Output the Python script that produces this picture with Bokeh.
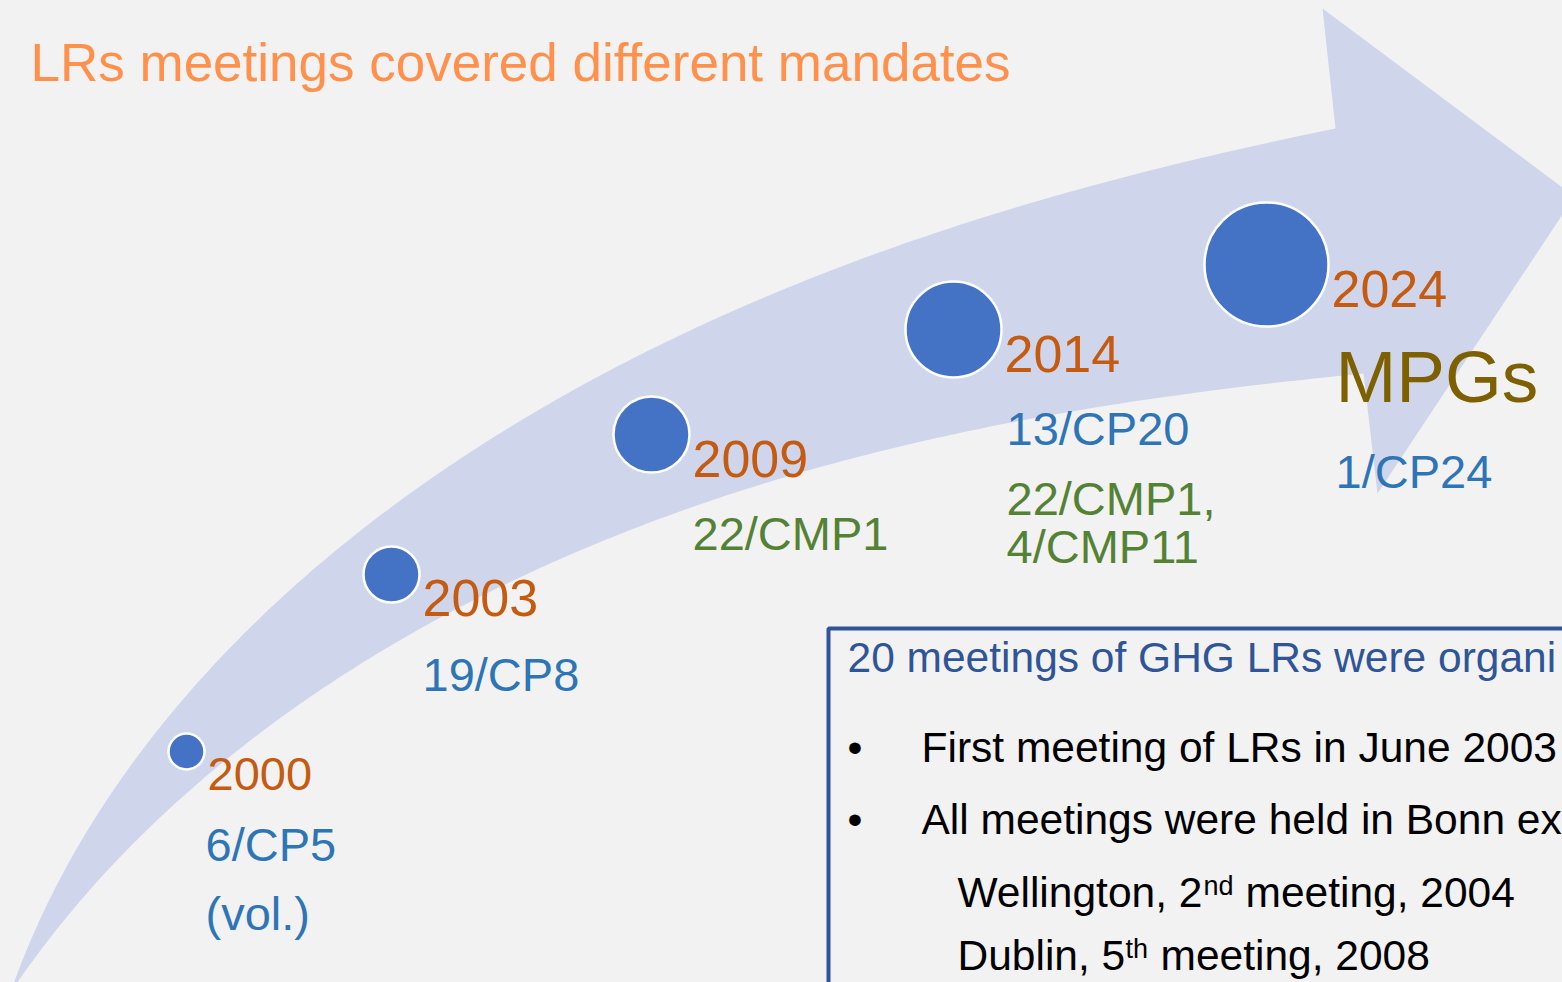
from math import comb
import numpy as np
from bokeh.plotting import figure
from bokeh.models import Range1d
from bokeh.core.properties import value
from bokeh.embed import file_html
from bokeh.resources import INLINE

# ---------------- data ----------------
TITLE = "LRs meetings covered different mandates"

years = ["2000", "2003", "2009", "2014", "2024"]
# size of each milestone dot (px radius), grows with time
milestone_radius = [18, 28, 38, 48, 62]

cp_labels = ["6/CP5", "(vol.)", "19/CP8", "13/CP20", "1/CP24"]
cmp_labels = ["22/CMP1", "22/CMP1,", "4/CMP11"]
mpg_label = "MPGs"

box_header = "20 meetings of GHG LRs were organi"
box_bullets = ["First meeting of LRs in June 2003",
               "All meetings were held in Bonn ex"]
exceptions_city = ["Wellington, 2", "Dublin, 5"]
exceptions_sup = ["nd", "th"]
exceptions_rest = ["meeting, 2004", "meeting, 2008"]

# ---------------- layout (pixel coordinates of the slide) ----------------
milestone_x = [186, 391, 651, 953, 1266]
milestone_y = [751, 574, 434, 329, 264]
year_size = [47, 52, 52, 52, 52]
year_base = [791, 617, 478, 373, 308]

cp_x = [205, 205, 422, 1006, 1335]
cp_y = [861, 930, 691, 445, 488]
cmp_x = [692, 1006, 1006]
cmp_y = [550, 515, 563]

upper_edge = [(10, 992), (50, 893), (100, 805), (143, 748), (182, 700), (250, 632),
              (350, 538), (450, 462), (550, 402), (650, 350), (800, 283), (900, 244),
              (1000, 211), (1100, 183), (1200, 158), (1335, 128)]
head = [(1322, 8), (1574, 196), (1377, 493), (1363, 373)]
lower_edge = [(10, 992), (100, 875), (200, 777), (308, 700), (350, 672), (450, 613),
              (550, 563), (650, 521), (700, 503), (800, 470), (900, 446), (1000, 424),
              (1100, 407), (1183, 395), (1363, 373)]

FONT = value("Liberation Sans")
C_BG = "#F2F2F2"
C_ARROW = "#CFD5EA"
C_DOT = "#4472C4"
C_YEAR = "#C55A11"
C_CP = "#2E75B6"
C_CMP = "#548235"
C_MPG = "#7F6000"
C_TITLE = "#FF914D"
C_BOX = "#2F5597"

BASE_SHIFT = 0.37  # em offset of the rendered alphabetic baseline


def bl(y, size):
    return y - BASE_SHIFT * size


def bezier_fit(pts, deg=4, n=240):
    Q = np.asarray(pts, float)
    d = np.r_[0, np.cumsum(np.hypot(*np.diff(Q, axis=0).T))]
    t = d / d[-1]
    B = np.stack([comb(deg, k) * t ** k * (1 - t) ** (deg - k) for k in range(deg + 1)], axis=1)
    rhs = Q - np.outer(B[:, 0], Q[0]) - np.outer(B[:, -1], Q[-1])
    C, *_ = np.linalg.lstsq(B[:, 1:-1], rhs, rcond=None)
    ctrl = np.vstack([Q[0], C, Q[-1]])
    tt = np.linspace(0, 1, n)
    BB = np.stack([comb(deg, k) * tt ** k * (1 - tt) ** (deg - k) for k in range(deg + 1)], axis=1)
    return BB @ ctrl


W, H = 1562, 982
p = figure(width=W, height=H, x_range=Range1d(0, W), y_range=Range1d(H, 0),
           output_backend="svg", toolbar_location=None, tools="",
           x_axis_location=None, y_axis_location=None, min_border=0,
           background_fill_color=C_BG, border_fill_color=C_BG, outline_line_color=None)
p.grid.visible = False

# arrow
up = bezier_fit(upper_edge)
lo = bezier_fit(lower_edge)[::-1]
hd = np.asarray(head, float)
outline = np.vstack([up, hd, lo])
p.patch(outline[:, 0], outline[:, 1], fill_color=C_ARROW, line_color=None)

# milestones
p.circle(milestone_x, milestone_y, radius=milestone_radius, fill_color=C_DOT,
         line_color="white", line_width=2.5)

# title
p.text([30], [bl(82, 53)], text=[TITLE], text_font=FONT, text_font_size="53px",
       text_color=C_TITLE, text_baseline="alphabetic")

# year labels
for yr, cx, r, yb, fs in zip(years, milestone_x, milestone_radius, year_base, year_size):
    p.text([cx + r + 3], [bl(yb, fs)], text=[yr], text_font=FONT,
           text_font_size=f"{fs}px", text_color=C_YEAR, text_baseline="alphabetic")

p.text(cp_x, [bl(v, 47) for v in cp_y], text=cp_labels, text_font=FONT,
       text_font_size="47px", text_color=C_CP, text_baseline="alphabetic")
p.text(cmp_x, [bl(v, 47) for v in cmp_y], text=cmp_labels, text_font=FONT,
       text_font_size="47px", text_color=C_CMP, text_baseline="alphabetic")
p.text([1335], [bl(403, 73)], text=[mpg_label], text_font=FONT, text_font_size="73px",
       text_color=C_MPG, text_baseline="alphabetic")

# info box
p.quad(left=[828], right=[1800], top=[628], bottom=[1200], fill_color=None,
       line_color=C_BOX, line_width=4)
p.text([847], [bl(673, 42.5)], text=[box_header], text_font=FONT, text_font_size="42.5px",
       text_color=C_BOX, text_baseline="alphabetic")
p.text([847, 847], [bl(763, 42.5), bl(835, 42.5)], text=["\u2022", "\u2022"], text_font=FONT,
       text_font_size="42.5px", text_color="black", text_baseline="alphabetic")
p.text([921, 921], [bl(763, 42.5), bl(835, 42.5)], text=box_bullets, text_font=FONT,
       text_font_size="42.5px", text_color="black", text_baseline="alphabetic")
p.text([957, 957], [bl(908, 42.5), bl(971, 42.5)], text=exceptions_city, text_font=FONT,
       text_font_size="42.5px", text_color="black", text_baseline="alphabetic")
p.text([1203, 1125], [bl(895, 27), bl(958, 27)], text=exceptions_sup, text_font=FONT,
       text_font_size="27px", text_color="black", text_baseline="alphabetic")
p.text([1245, 1160], [bl(908, 42.5), bl(971, 42.5)], text=exceptions_rest, text_font=FONT,
       text_font_size="42.5px", text_color="black", text_baseline="alphabetic")

template = ("{% block postamble %}<style>html, body { margin: 0; padding: 0; "
            "overflow: hidden; background: #F2F2F2; }</style>{% endblock %}")
open("out.html", "w").write(file_html(p, INLINE, template=template))
